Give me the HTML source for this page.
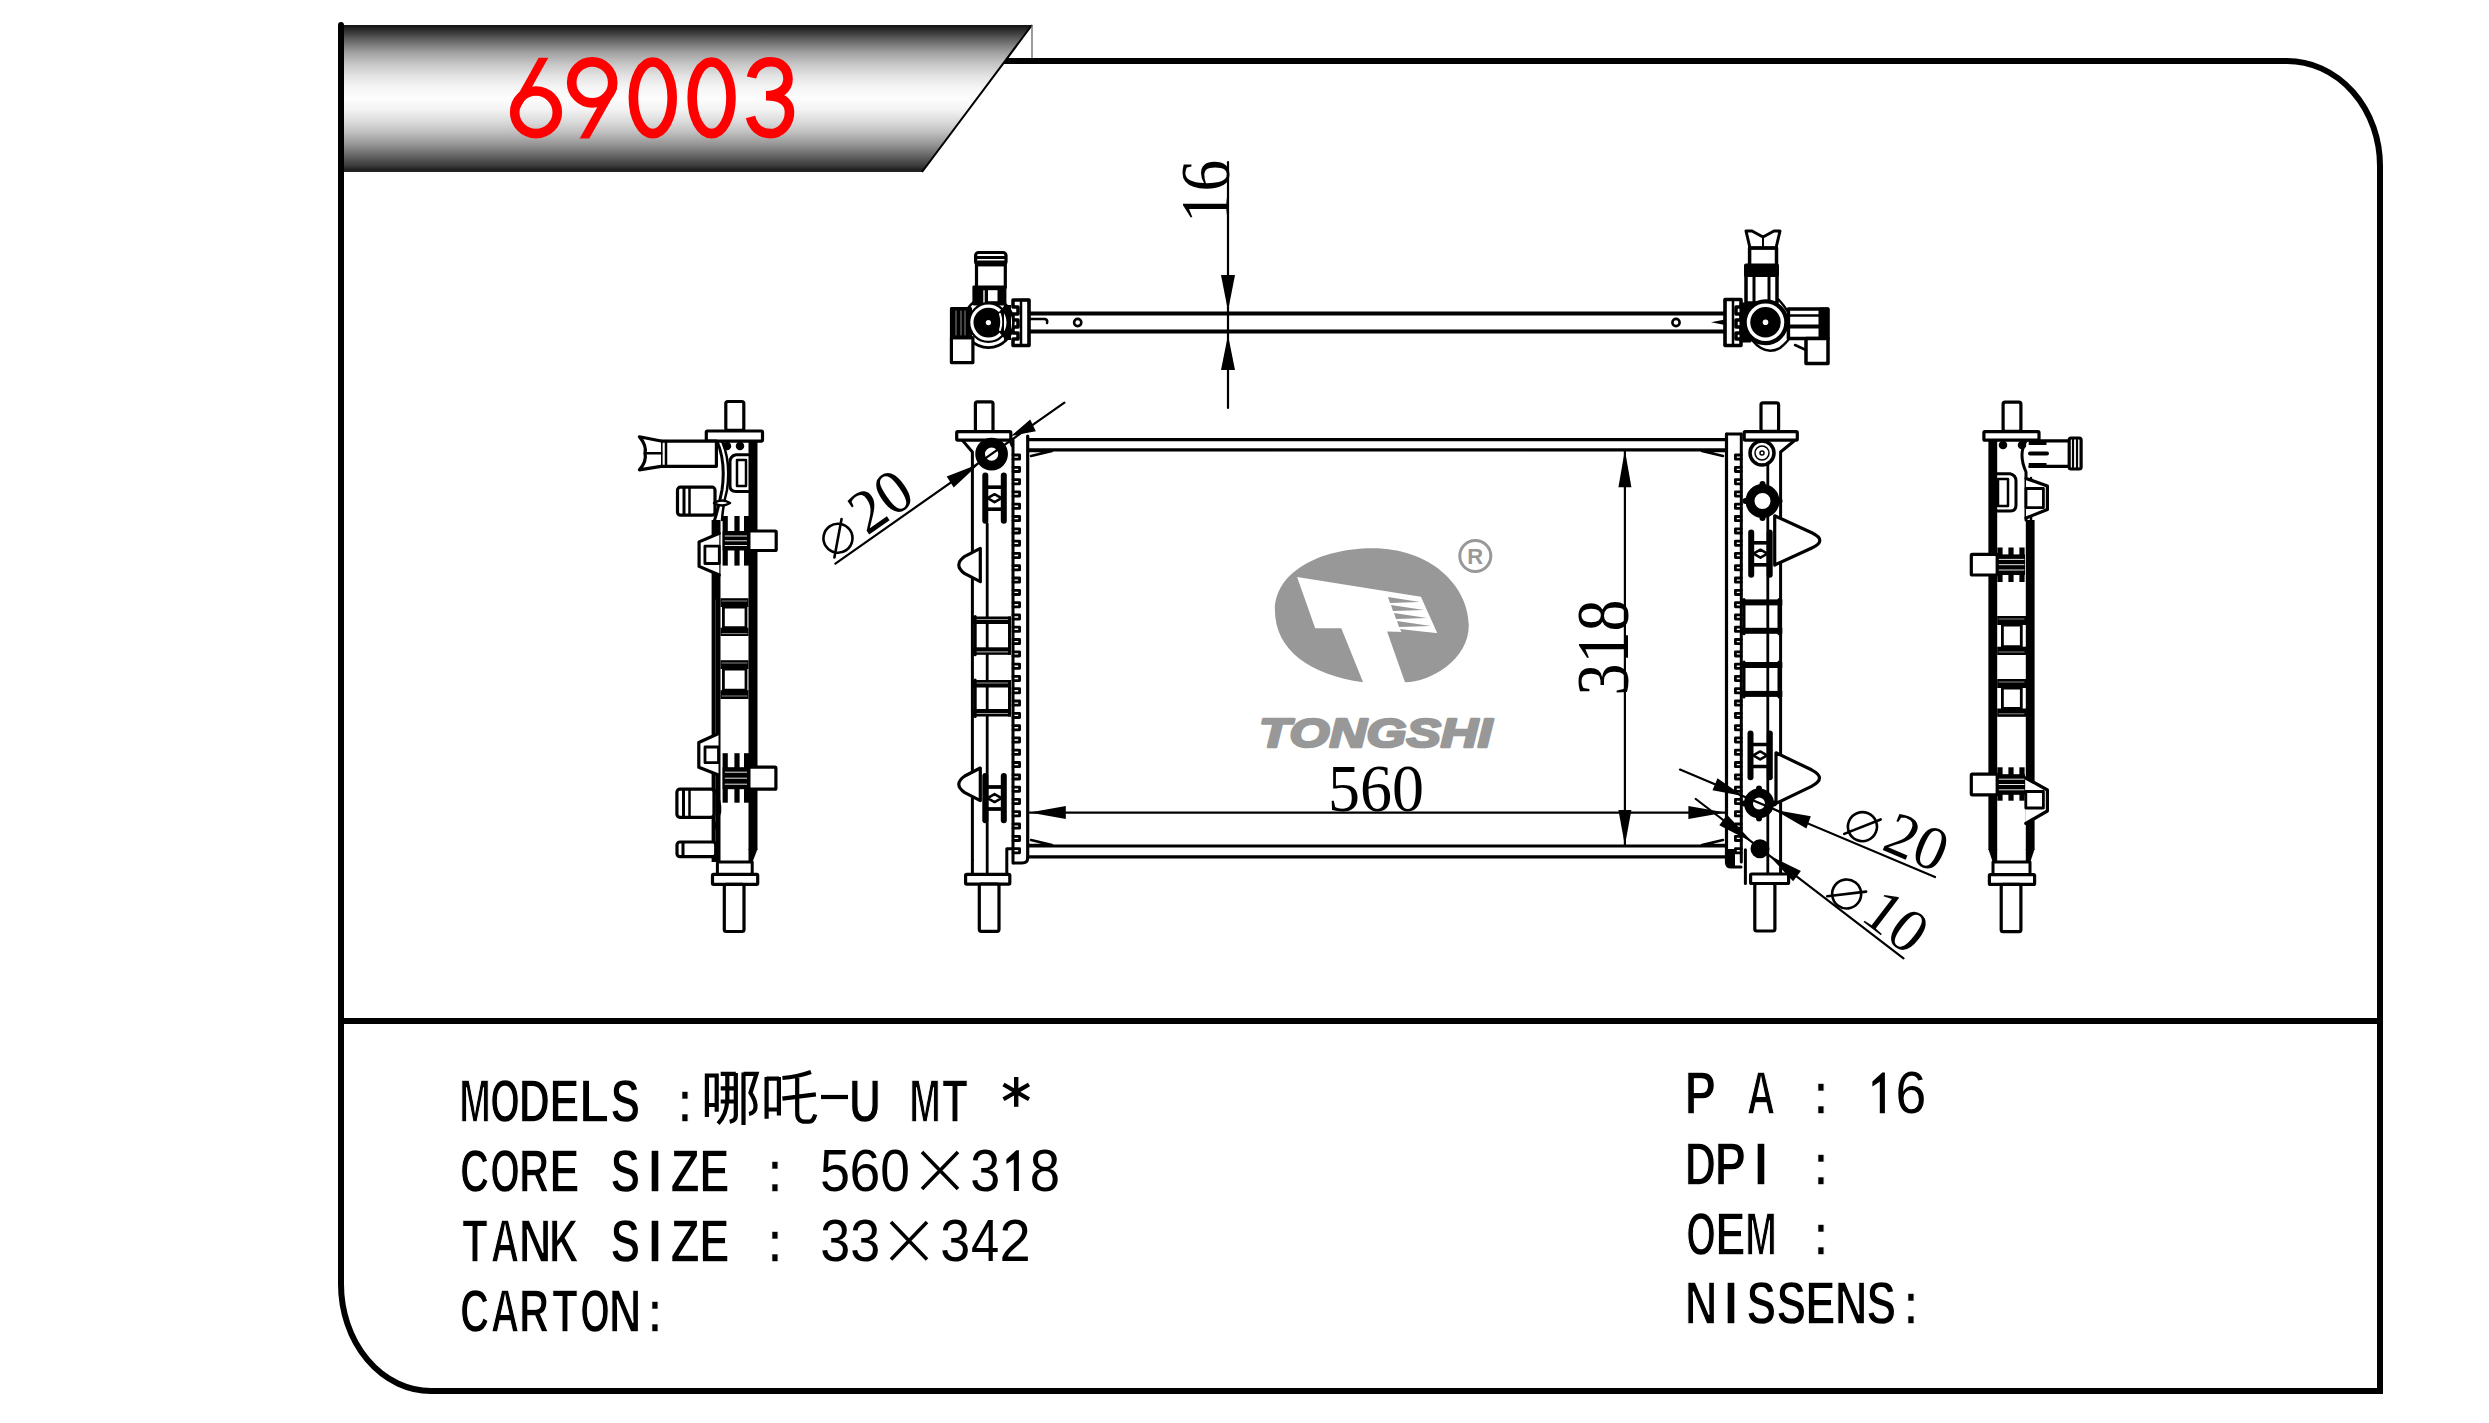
<!DOCTYPE html>
<html><head><meta charset="utf-8">
<style>
html,body{margin:0;padding:0;background:#fff;}
body{width:2489px;height:1423px;overflow:hidden;position:relative;}
svg{position:absolute;left:0;top:0;}
.m{font-family:"Liberation Mono",monospace;}
.s{font-family:"Liberation Serif",serif;}
.a{font-family:"Liberation Sans",sans-serif;}
</style></head><body>
<svg width="2489" height="1423" viewBox="0 0 2489 1423">
<defs>
<linearGradient id="hg" x1="0" y1="0" x2="0" y2="1">
<stop offset="0" stop-color="#111"/>
<stop offset="0.042" stop-color="#333"/>
<stop offset="0.118" stop-color="#707070"/>
<stop offset="0.195" stop-color="#a5a5a5"/>
<stop offset="0.271" stop-color="#c8c8c8"/>
<stop offset="0.347" stop-color="#e3e3e3"/>
<stop offset="0.424" stop-color="#f5f5f5"/>
<stop offset="0.5" stop-color="#fdfdfd"/>
<stop offset="0.576" stop-color="#f3f3f3"/>
<stop offset="0.653" stop-color="#dcdcdc"/>
<stop offset="0.729" stop-color="#c0c0c0"/>
<stop offset="0.805" stop-color="#999"/>
<stop offset="0.882" stop-color="#6a6a6a"/>
<stop offset="0.958" stop-color="#3a3a3a"/>
<stop offset="1" stop-color="#111"/>
</linearGradient>
<linearGradient id="hg2" gradientUnits="userSpaceOnUse" x1="0" y1="25" x2="0" y2="172" href="#hg"/>
</defs>
<path d="M341,25 L341,1284 A90,107 0 0 0 431,1391 L2380,1391 L2380,166 A93,105 0 0 0 2287,61 L1004,61" fill="none" stroke="#000" stroke-width="6" stroke-linecap="round"/>
<line x1="341" y1="1021" x2="2380" y2="1021" stroke="#000" stroke-width="6"/>
<path d="M344,25 L1032,25 L922,172 L344,172 Z" fill="url(#hg)"/>
<line x1="344" y1="171" x2="922" y2="171" stroke="#222" stroke-width="2"/>
<line x1="1032" y1="25" x2="922" y2="172" stroke="#000" stroke-width="2"/>
<line x1="1032" y1="25" x2="1032" y2="58" stroke="#666" stroke-width="1.3"/>
<g fill="none" stroke="#f00" stroke-width="9.6">
<circle cx="536" cy="112.3" r="21.3"/>
<path d="M538.7,57.8 H548.3 L520.3,107.8 H510.7 Z" fill="#f00" stroke="none"/>
<circle cx="592.2" cy="82.4" r="20.5"/>
<path d="M617.3,88.4 H607.7 L579.7,138.4 H589.3 Z" fill="#f00" stroke="none"/>
<ellipse cx="652.8" cy="97.8" rx="19.4" ry="35.8"/>
<ellipse cx="711.6" cy="97.8" rx="19.4" ry="35.8"/>
<path d="M751.5,77.5 C754,66 762,61.8 771,61.8 C781,61.8 788,69 788,79 C788,89 779,95.7 766,95.7 C781,95.7 789.5,102 789.5,112 C789.5,125 780,133.6 770.5,133.6 C760,133.6 753,127 750.5,117"/>
</g>
<g class="a" font-weight="bold" font-size="59" fill="#000">
<text stroke="#fff" stroke-width="1.4" transform="translate(459.25,1121.92) scale(0.642,1.0357)">M</text><text stroke="#fff" stroke-width="1.4" transform="translate(490.20,1121.92) scale(0.646,1.0357)">O</text><text stroke="#fff" stroke-width="1.4" transform="translate(518.82,1121.92) scale(0.736,1.0357)">D</text><text stroke="#fff" stroke-width="1.4" transform="translate(549.19,1121.92) scale(0.773,1.0357)">E</text><text stroke="#fff" stroke-width="1.4" transform="translate(579.18,1121.92) scale(0.830,1.0357)">L</text><text stroke="#fff" stroke-width="1.4" transform="translate(610.39,1121.92) scale(0.755,1.0357)">S</text><text stroke="#fff" stroke-width="1.4" transform="translate(677.29,1121.92) scale(0.783,1.0357)">:</text><text stroke="#fff" stroke-width="1.4" transform="translate(849.05,1121.92) scale(0.751,1.0357)">U</text><text stroke="#fff" stroke-width="1.4" transform="translate(909.25,1121.92) scale(0.642,1.0357)">M</text><text stroke="#fff" stroke-width="1.4" transform="translate(942.26,1121.92) scale(0.706,1.0357)">T</text>
<path d="M1016.3,1150.2 H1018.9 V1190.9 H1013.8 V1159.4 L1006.4,1164.1000000000001 V1159.3000000000002 Z" fill="#000"/>
<text stroke="#fff" stroke-width="1.4" transform="translate(460.07,1191.62) scale(0.688,1.0357)">C</text><text stroke="#fff" stroke-width="1.4" transform="translate(490.20,1191.62) scale(0.646,1.0357)">O</text><text stroke="#fff" stroke-width="1.4" transform="translate(518.94,1191.62) scale(0.709,1.0357)">R</text><text stroke="#fff" stroke-width="1.4" transform="translate(549.19,1191.62) scale(0.773,1.0357)">E</text><text stroke="#fff" stroke-width="1.4" transform="translate(610.39,1191.62) scale(0.755,1.0357)">S</text><text stroke="#fff" stroke-width="1.4" transform="translate(647.31,1191.62) scale(0.944,1.0357)">I</text><text stroke="#fff" stroke-width="1.4" transform="translate(670.14,1191.62) scale(0.823,1.0357)">Z</text><text stroke="#fff" stroke-width="1.4" transform="translate(699.19,1191.62) scale(0.773,1.0357)">E</text><text stroke="#fff" stroke-width="1.4" transform="translate(767.29,1191.62) scale(0.783,1.0357)">:</text><text font-weight="normal" transform="translate(820.06,1190.9) scale(0.914,1)">5</text><text font-weight="normal" transform="translate(849.44,1190.9) scale(0.938,1)">6</text><text font-weight="normal" transform="translate(880.17,1190.9) scale(0.904,1)">0</text><text font-weight="normal" transform="translate(970.15,1190.9) scale(0.914,1)">3</text><text font-weight="normal" transform="translate(1029.85,1190.9) scale(0.924,1)">8</text>
<text stroke="#fff" stroke-width="1.4" transform="translate(462.26,1261.72) scale(0.706,1.0357)">T</text><text stroke="#fff" stroke-width="1.4" transform="translate(490.72,1261.72) scale(0.672,1.0357)">A</text><text stroke="#fff" stroke-width="1.4" transform="translate(518.66,1261.72) scale(0.769,1.0357)">N</text><text stroke="#fff" stroke-width="1.4" transform="translate(548.99,1261.72) scale(0.698,1.0357)">K</text><text stroke="#fff" stroke-width="1.4" transform="translate(610.39,1261.72) scale(0.755,1.0357)">S</text><text stroke="#fff" stroke-width="1.4" transform="translate(647.31,1261.72) scale(0.944,1.0357)">I</text><text stroke="#fff" stroke-width="1.4" transform="translate(670.14,1261.72) scale(0.823,1.0357)">Z</text><text stroke="#fff" stroke-width="1.4" transform="translate(699.19,1261.72) scale(0.773,1.0357)">E</text><text stroke="#fff" stroke-width="1.4" transform="translate(767.29,1261.72) scale(0.783,1.0357)">:</text><text font-weight="normal" transform="translate(820.15,1261) scale(0.914,1)">3</text><text font-weight="normal" transform="translate(850.15,1261) scale(0.914,1)">3</text><text font-weight="normal" transform="translate(940.15,1261) scale(0.914,1)">3</text><text font-weight="normal" transform="translate(971.05,1261) scale(0.859,1)">4</text><text font-weight="normal" transform="translate(999.40,1261) scale(0.951,1)">2</text>
<text stroke="#fff" stroke-width="1.4" transform="translate(460.07,1332.02) scale(0.688,1.0357)">C</text><text stroke="#fff" stroke-width="1.4" transform="translate(490.72,1332.02) scale(0.672,1.0357)">A</text><text stroke="#fff" stroke-width="1.4" transform="translate(518.94,1332.02) scale(0.709,1.0357)">R</text><text stroke="#fff" stroke-width="1.4" transform="translate(552.26,1332.02) scale(0.706,1.0357)">T</text><text stroke="#fff" stroke-width="1.4" transform="translate(580.20,1332.02) scale(0.646,1.0357)">O</text><text stroke="#fff" stroke-width="1.4" transform="translate(608.66,1332.02) scale(0.769,1.0357)">N</text><text stroke="#fff" stroke-width="1.4" transform="translate(647.29,1332.02) scale(0.783,1.0357)">:</text>
<path d="M1882.3,1072.5 H1884.9 V1113.2 H1879.8 V1081.7 L1872.4,1086.4 V1081.6000000000001 Z" fill="#000"/>
<text stroke="#fff" stroke-width="1.4" transform="translate(1684.52,1113.92) scale(0.800,1.0357)">P</text><text stroke="#fff" stroke-width="1.4" transform="translate(1746.72,1113.92) scale(0.672,1.0357)">A</text><text stroke="#fff" stroke-width="1.4" transform="translate(1813.29,1113.92) scale(0.783,1.0357)">:</text><text font-weight="normal" transform="translate(1895.44,1113.2) scale(0.938,1)">6</text>
<text stroke="#fff" stroke-width="1.4" transform="translate(1684.82,1184.62) scale(0.736,1.0357)">D</text><text stroke="#fff" stroke-width="1.4" transform="translate(1714.52,1184.62) scale(0.800,1.0357)">P</text><text stroke="#fff" stroke-width="1.4" transform="translate(1753.31,1184.62) scale(0.944,1.0357)">I</text><text stroke="#fff" stroke-width="1.4" transform="translate(1813.29,1184.62) scale(0.783,1.0357)">:</text>
<text stroke="#fff" stroke-width="1.4" transform="translate(1686.20,1254.72) scale(0.646,1.0357)">O</text><text stroke="#fff" stroke-width="1.4" transform="translate(1715.19,1254.72) scale(0.773,1.0357)">E</text><text stroke="#fff" stroke-width="1.4" transform="translate(1745.25,1254.72) scale(0.642,1.0357)">M</text><text stroke="#fff" stroke-width="1.4" transform="translate(1813.29,1254.72) scale(0.783,1.0357)">:</text>
<text stroke="#fff" stroke-width="1.4" transform="translate(1684.66,1323.72) scale(0.769,1.0357)">N</text><text stroke="#fff" stroke-width="1.4" transform="translate(1723.31,1323.72) scale(0.944,1.0357)">I</text><text stroke="#fff" stroke-width="1.4" transform="translate(1746.39,1323.72) scale(0.755,1.0357)">S</text><text stroke="#fff" stroke-width="1.4" transform="translate(1776.39,1323.72) scale(0.755,1.0357)">S</text><text stroke="#fff" stroke-width="1.4" transform="translate(1805.19,1323.72) scale(0.773,1.0357)">E</text><text stroke="#fff" stroke-width="1.4" transform="translate(1834.66,1323.72) scale(0.769,1.0357)">N</text><text stroke="#fff" stroke-width="1.4" transform="translate(1866.39,1323.72) scale(0.755,1.0357)">S</text><text stroke="#fff" stroke-width="1.4" transform="translate(1903.29,1323.72) scale(0.783,1.0357)">:</text>
</g>
<g stroke="#000" stroke-width="3.6" fill="none">
<path d="M922,1152 L958,1189 M958,1152 L922,1189"/>
<path d="M891,1222 L927,1259.6 M927,1222 L891,1259.6"/>
</g>
<g stroke="#000" stroke-width="4.2" fill="none" stroke-linecap="butt">
<path d="M706.9,1073.5 V1117 M706.9,1075.5 H716.7 M716.7,1073.5 V1111.7 M706.9,1105 H716.7"/>
<path d="M720.7,1073.8 H735.8 M735.8,1073 V1116 Q735.8,1120.5 729.7,1121.7 M727.3,1073.8 V1100 Q726.5,1115 718.1,1123.6 M720.7,1088.3 H735.8 M720.7,1101.5 H735.8"/>
<path d="M743.5,1072.5 V1124.9 M743.5,1073.8 H756.5 L750.5,1092.8 Q756.5,1102 755.4,1108.2 Q754.5,1113 749,1114"/>
<path d="M766.6,1077 V1118.8 M766.6,1078.6 H778.9 M778.9,1077 V1115.6 M766.6,1109.5 H778.9"/>
<path d="M782.4,1078 Q797,1077 811,1072 M782.4,1098.6 L815.9,1094.4 M797.2,1078 V1113 Q797.2,1121.7 805,1121.7 H809 Q813.5,1121.7 815.2,1114.6"/>
<path d="M821,1097 H848"/>
<path d="M1016.2,1077 V1106.8" stroke-width="4.4"/>
<path d="M1003.5,1084.5 L1029,1099.3 M1029,1084.5 L1003.5,1099.3" stroke-width="4.2"/>
</g>
<g stroke-linejoin="round" stroke-linecap="round">
<line x1="1029" y1="313.5" x2="1726" y2="313.5" stroke="#000" stroke-width="4.2"/>
<line x1="1029" y1="331.5" x2="1726" y2="331.5" stroke="#000" stroke-width="4.2"/>
<circle cx="1077.7" cy="322.5" r="3.6" fill="none" stroke="#000" stroke-width="2.6"/>
<circle cx="1676" cy="322.5" r="3.6" fill="none" stroke="#000" stroke-width="2.6"/>
<path d="M1029,319 H1045 Q1048,320 1047,323" fill="none" stroke="#000" stroke-width="2.5"/>
<path d="M1725,319.5 L1711,322.3 L1725,325 Z" fill="#000"/>
<path d="M1029,300 H1013 V307 H1018 V314 H1013 V320 H1018 V327 H1013 V333 H1018 V339 H1013 V345.5 H1029 Z" fill="#fff" stroke="#000" stroke-width="3.5"/>
<rect x="1021" y="300" width="8.00" height="45.50" rx="0" fill="none" stroke="#000" stroke-width="2.5"/>
<circle cx="988.4" cy="322.6" r="25" fill="#fff" stroke="#000" stroke-width="2.6"/>
<rect x="951.4" y="337.7" width="21.50" height="24.90" rx="0" fill="#fff" stroke="#000" stroke-width="3.2"/>
<rect x="951.4" y="308.5" width="19.20" height="29.20" rx="0" fill="#000" stroke="#000" stroke-width="3"/>
<line x1="956" y1="311" x2="956" y2="335" stroke="#888" stroke-width="1"/>
<line x1="961" y1="311" x2="961" y2="335" stroke="#888" stroke-width="1"/>
<line x1="965" y1="311" x2="965" y2="335" stroke="#888" stroke-width="1"/>
<rect x="976.5" y="264.7" width="28.80" height="22.80" rx="0" fill="#fff" stroke="#000" stroke-width="3.2"/>
<rect x="975.6" y="252.5" width="30.40" height="12.20" rx="3" fill="#fff" stroke="#000" stroke-width="3.2"/>
<line x1="977" y1="257.5" x2="1005" y2="257.5" stroke="#000" stroke-width="2.8"/>
<line x1="977" y1="262" x2="1005" y2="262" stroke="#000" stroke-width="2.8"/>
<rect x="973.8" y="287" width="31.20" height="17.00" rx="0" fill="#000" stroke="#000" stroke-width="2.8"/>
<rect x="988" y="290.2" width="9.50" height="11.00" rx="0" fill="#fff" stroke="#000" stroke-width="0"/>
<line x1="984" y1="291" x2="984" y2="302" stroke="#aaa" stroke-width="2"/>
<rect x="1004" y="305" width="7.00" height="35.00" rx="0" fill="#000" stroke="#000" stroke-width="0"/>
<circle cx="988.4" cy="322.6" r="18.8" fill="#000" stroke="#000" stroke-width="3.2"/>
<circle cx="988.4" cy="322.6" r="16.5" fill="none" stroke="#fff" stroke-width="3.2"/>
<circle cx="988.4" cy="322.6" r="2.6" fill="#fff" stroke="#000" stroke-width="0"/>
<path d="M999,312 L1004,306 V338 L999,332 Q1002,322 999,312 Z" fill="#000"/>
<path d="M1000,314 Q1002.5,322 1000,330" fill="none" stroke="#fff" stroke-width="2"/>
<path d="M1725,299.6 H1741 V307 H1736 V314 H1741 V320 H1736 V327 H1741 V333 H1736 V339 H1741 V345.6 H1725 Z" fill="#fff" stroke="#000" stroke-width="3.5"/>
<rect x="1725" y="299.6" width="8.00" height="46.00" rx="0" fill="none" stroke="#000" stroke-width="2.5"/>
<path d="M1752,305 Q1765,290 1779,300 Q1790,312 1792,322" fill="none" stroke="#000" stroke-width="2.5"/>
<path d="M1752,340 Q1765,356 1780,348 Q1790,340 1792,333" fill="none" stroke="#000" stroke-width="2.5"/>
<rect x="1788.4" y="309" width="39.50" height="29.50" rx="0" fill="#fff" stroke="#000" stroke-width="3.5"/>
<line x1="1790" y1="315.5" x2="1820" y2="315.5" stroke="#000" stroke-width="2.5"/>
<line x1="1790" y1="326.5" x2="1820" y2="326.5" stroke="#000" stroke-width="4"/>
<rect x="1820" y="309" width="7.90" height="29.50" rx="0" fill="#000" stroke="#000" stroke-width="3"/>
<rect x="1806" y="338.5" width="22.00" height="25.00" rx="0" fill="#fff" stroke="#000" stroke-width="3.5"/>
<line x1="1795" y1="345" x2="1806" y2="350" stroke="#000" stroke-width="2.5"/>
<rect x="1746" y="275" width="31.00" height="28.00" rx="0" fill="#fff" stroke="#000" stroke-width="3.5"/>
<line x1="1754" y1="276" x2="1754" y2="302" stroke="#000" stroke-width="3"/>
<line x1="1769" y1="276" x2="1769" y2="302" stroke="#000" stroke-width="3"/>
<rect x="1746" y="265.6" width="31.00" height="9.40" rx="0" fill="#000" stroke="#000" stroke-width="4"/>
<path d="M1749.6,265.6 V248 H1776.5 V265.6" fill="none" stroke="#000" stroke-width="3.5"/>
<line x1="1750" y1="248" x2="1776" y2="248" stroke="#000" stroke-width="3"/>
<path d="M1750,248 L1746,231 H1752 L1763,237 L1774,231 H1780 L1776,248" fill="none" stroke="#000" stroke-width="3"/>
<line x1="1763" y1="237" x2="1763" y2="248" stroke="#000" stroke-width="2"/>
<rect x="1741" y="304" width="9.00" height="37.00" rx="0" fill="#000" stroke="#000" stroke-width="3"/>
<circle cx="1765.5" cy="322.3" r="21" fill="#000" stroke="#000" stroke-width="4"/>
<circle cx="1765.5" cy="322.3" r="17" fill="none" stroke="#fff" stroke-width="3.5"/>
<circle cx="1765.5" cy="322.3" r="2.8" fill="#fff" stroke="#000" stroke-width="0"/>
<line x1="1228" y1="162" x2="1228" y2="408" stroke="#000" stroke-width="2.2"/>
<path d="M1228.0,311.0 L1235.0,275.0 L1221.0,275.0 Z" fill="#000"/>
<path d="M1228.0,335.0 L1221.0,370.0 L1235.0,370.0 Z" fill="#000"/>
<text transform="translate(1229,223) rotate(-90)" class="s" font-size="70" textLength="63" lengthAdjust="spacingAndGlyphs">16</text>
<rect x="748.5" y="441" width="9.00" height="409.00" rx="0" fill="#000" stroke="#000" stroke-width="0"/>
<path d="M748.5,849 H757.5 L752.2,863 H748.5 Z" fill="#000"/>
<rect x="711.6" y="520" width="8.90" height="342.00" rx="0" fill="#000" stroke="#000" stroke-width="0"/>
<line x1="715.5" y1="600" x2="715.5" y2="850" stroke="#444" stroke-width="0.8"/>
<rect x="717.4" y="862" width="34.80" height="12.70" rx="0" fill="#fff" stroke="#000" stroke-width="3"/>
<path d="M717,441 Q726,462 722,490 Q718,510 714,522" fill="none" stroke="#000" stroke-width="3"/>
<path d="M722,441 Q731,462 727,490 Q723,505 722,520" fill="none" stroke="#000" stroke-width="2.5"/>
<rect x="725.8" y="401.5" width="18.00" height="28.80" rx="2" fill="#fff" stroke="#000" stroke-width="3.2"/>
<rect x="706.3" y="431" width="56.20" height="10.10" rx="1" fill="#fff" stroke="#000" stroke-width="3.2"/>
<rect x="712.5" y="874.4" width="45.20" height="9.90" rx="1" fill="#fff" stroke="#000" stroke-width="3.2"/>
<rect x="724.3" y="884.3" width="19.70" height="47.20" rx="2" fill="#fff" stroke="#000" stroke-width="3.2"/>
<path d="M748,454.8 H736 Q730,456 730,462 V486 Q730,491.5 736,491.5 H748" fill="none" stroke="#000" stroke-width="3"/>
<rect x="737" y="460" width="9.00" height="26.00" rx="0" fill="none" stroke="#000" stroke-width="2.5"/>
<circle cx="727" cy="446" r="3" fill="#000" stroke="#000" stroke-width="2.5"/>
<circle cx="740" cy="446" r="3" fill="#000" stroke="#000" stroke-width="2.5"/>
<rect x="661" y="441.1" width="55.40" height="25.20" rx="0" fill="#fff" stroke="#000" stroke-width="3.2"/>
<line x1="666" y1="441.1" x2="666" y2="466.3" stroke="#000" stroke-width="2.5"/>
<path d="M661,441 L639.4,436.8 Q647,446 645,453.3 Q647,461 639.4,469.9 L661,466.3" fill="#fff" stroke="#000" stroke-width="3.2"/>
<line x1="645" y1="453.3" x2="661" y2="453.3" stroke="#000" stroke-width="2.5"/>
<rect x="677.5" y="487.2" width="37.50" height="28.00" rx="3" fill="#fff" stroke="#000" stroke-width="3.2"/>
<line x1="684" y1="488" x2="684" y2="514" stroke="#000" stroke-width="3"/>
<line x1="689.5" y1="488" x2="689.5" y2="514" stroke="#000" stroke-width="2.5"/>
<path d="M714,503 Q722,498 730,503 Q722,508 714,503" fill="#fff" stroke="#000" stroke-width="2.5"/>
<rect x="722.6" y="516" width="5.20" height="49.60" rx="0" fill="#000" stroke="#000" stroke-width="0"/>
<rect x="734.4" y="516" width="5.20" height="49.60" rx="0" fill="#000" stroke="#000" stroke-width="0"/>
<rect x="744.0" y="516" width="5.20" height="49.60" rx="0" fill="#000" stroke="#000" stroke-width="0"/>
<rect x="722.6" y="531" width="28.00" height="19.50" rx="0" fill="#000" stroke="#000" stroke-width="0"/>
<line x1="725.2" y1="536.0" x2="746.6" y2="536.0" stroke="#fff" stroke-width="0.9"/>
<line x1="725.2" y1="540.8" x2="746.6" y2="540.8" stroke="#fff" stroke-width="0.9"/>
<line x1="725.2" y1="545.5" x2="746.6" y2="545.5" stroke="#fff" stroke-width="0.9"/>
<rect x="748.9" y="531" width="27.30" height="19.50" rx="1" fill="#fff" stroke="#000" stroke-width="3.2"/>
<path d="M719.3,533.3 L699.1,541.9 V566.4 L719.3,575" fill="#fff" stroke="#000" stroke-width="3.2"/>
<rect x="704.9" y="546.2" width="14.40" height="17.30" rx="0" fill="none" stroke="#000" stroke-width="2.8"/>
<rect x="722.6" y="753.2" width="5.20" height="49.50" rx="0" fill="#000" stroke="#000" stroke-width="0"/>
<rect x="734.4" y="753.2" width="5.20" height="49.50" rx="0" fill="#000" stroke="#000" stroke-width="0"/>
<rect x="744.0" y="753.2" width="5.20" height="49.50" rx="0" fill="#000" stroke="#000" stroke-width="0"/>
<rect x="722.6" y="767.2" width="28.00" height="22.00" rx="0" fill="#000" stroke="#000" stroke-width="0"/>
<line x1="725.2" y1="772.2" x2="746.6" y2="772.2" stroke="#fff" stroke-width="0.9"/>
<line x1="725.2" y1="778.2" x2="746.6" y2="778.2" stroke="#fff" stroke-width="0.9"/>
<line x1="725.2" y1="784.2" x2="746.6" y2="784.2" stroke="#fff" stroke-width="0.9"/>
<rect x="748.9" y="767.2" width="27.00" height="22.00" rx="1" fill="#fff" stroke="#000" stroke-width="3.2"/>
<path d="M718.5,733.5 L698.8,742.5 V767.2 L718.5,775.1" fill="#fff" stroke="#000" stroke-width="3.2"/>
<rect x="705" y="747" width="13.50" height="15.70" rx="0" fill="none" stroke="#000" stroke-width="2.8"/>
<rect x="720.5" y="598.2" width="28.00" height="8.80" rx="0" fill="#000" stroke="#000" stroke-width="0"/>
<rect x="723.4" y="607" width="22.60" height="20.70" rx="0" fill="none" stroke="#000" stroke-width="2.8"/>
<rect x="720.5" y="627.7" width="28.00" height="8.30" rx="0" fill="#000" stroke="#000" stroke-width="0"/>
<rect x="720.5" y="660.2" width="28.00" height="8.80" rx="0" fill="#000" stroke="#000" stroke-width="0"/>
<rect x="723.4" y="669" width="22.60" height="21.20" rx="0" fill="none" stroke="#000" stroke-width="2.8"/>
<rect x="720.5" y="690.2" width="28.00" height="8.80" rx="0" fill="#000" stroke="#000" stroke-width="0"/>
<line x1="722" y1="601" x2="747" y2="601" stroke="#888" stroke-width="1"/>
<line x1="722" y1="633.6" x2="747" y2="633.6" stroke="#888" stroke-width="1"/>
<line x1="722" y1="663" x2="747" y2="663" stroke="#888" stroke-width="1"/>
<line x1="722" y1="696" x2="747" y2="696" stroke="#888" stroke-width="1"/>
<rect x="676.9" y="789.2" width="37.10" height="28.10" rx="3" fill="#fff" stroke="#000" stroke-width="3.2"/>
<line x1="683.5" y1="790" x2="683.5" y2="816" stroke="#000" stroke-width="3"/>
<line x1="689.5" y1="790" x2="689.5" y2="816" stroke="#000" stroke-width="2.5"/>
<rect x="677" y="842" width="38.70" height="14.70" rx="3" fill="#fff" stroke="#000" stroke-width="3.2"/>
<line x1="683" y1="843" x2="683" y2="856" stroke="#000" stroke-width="3"/>
<path d="M714,789 Q721,800 720,812 Q717,822 714,830" fill="none" stroke="#000" stroke-width="2.5"/>
<line x1="1029" y1="439.7" x2="1725" y2="439.7" stroke="#000" stroke-width="3.2"/>
<line x1="1029" y1="449.8" x2="1725" y2="449.8" stroke="#000" stroke-width="3.2"/>
<line x1="1029" y1="846" x2="1725" y2="846" stroke="#000" stroke-width="3.2"/>
<line x1="1029" y1="856.8" x2="1725" y2="856.8" stroke="#000" stroke-width="3.2"/>
<path d="M1031,456 L1052,451 H1029" fill="none" stroke="#000" stroke-width="2.5"/>
<path d="M1031,840 L1052,845 H1029" fill="none" stroke="#000" stroke-width="2.5"/>
<path d="M1723,456 L1702,451 H1725" fill="none" stroke="#000" stroke-width="2.5"/>
<path d="M1723,840 L1702,845 H1725" fill="none" stroke="#000" stroke-width="2.5"/>
<line x1="1027.7" y1="436" x2="1027.7" y2="858" stroke="#000" stroke-width="3.2"/>
<path d="M1027.7,858 Q1027.7,863 1022,863 H1014" fill="none" stroke="#000" stroke-width="3"/>
<line x1="1013" y1="440" x2="1013" y2="863" stroke="#000" stroke-width="3"/>
<path d="M1013,455.0 H1019.6 V459.2 H1013" fill="none" stroke="#000" stroke-width="2.8"/>
<path d="M1013,467.3 H1019.6 V471.5 H1013" fill="none" stroke="#000" stroke-width="2.8"/>
<path d="M1013,479.6 H1019.6 V483.8 H1013" fill="none" stroke="#000" stroke-width="2.8"/>
<path d="M1013,491.9 H1019.6 V496.1 H1013" fill="none" stroke="#000" stroke-width="2.8"/>
<path d="M1013,504.2 H1019.6 V508.4 H1013" fill="none" stroke="#000" stroke-width="2.8"/>
<path d="M1013,516.5 H1019.6 V520.7 H1013" fill="none" stroke="#000" stroke-width="2.8"/>
<path d="M1013,528.8 H1019.6 V533.0 H1013" fill="none" stroke="#000" stroke-width="2.8"/>
<path d="M1013,541.1 H1019.6 V545.3 H1013" fill="none" stroke="#000" stroke-width="2.8"/>
<path d="M1013,553.4 H1019.6 V557.6 H1013" fill="none" stroke="#000" stroke-width="2.8"/>
<path d="M1013,565.7 H1019.6 V569.9 H1013" fill="none" stroke="#000" stroke-width="2.8"/>
<path d="M1013,578.0 H1019.6 V582.2 H1013" fill="none" stroke="#000" stroke-width="2.8"/>
<path d="M1013,590.3 H1019.6 V594.5 H1013" fill="none" stroke="#000" stroke-width="2.8"/>
<path d="M1013,602.6 H1019.6 V606.8 H1013" fill="none" stroke="#000" stroke-width="2.8"/>
<path d="M1013,614.9 H1019.6 V619.1 H1013" fill="none" stroke="#000" stroke-width="2.8"/>
<path d="M1013,627.2 H1019.6 V631.4 H1013" fill="none" stroke="#000" stroke-width="2.8"/>
<path d="M1013,639.5 H1019.6 V643.7 H1013" fill="none" stroke="#000" stroke-width="2.8"/>
<path d="M1013,651.8 H1019.6 V656.0 H1013" fill="none" stroke="#000" stroke-width="2.8"/>
<path d="M1013,664.1 H1019.6 V668.3 H1013" fill="none" stroke="#000" stroke-width="2.8"/>
<path d="M1013,676.4 H1019.6 V680.6 H1013" fill="none" stroke="#000" stroke-width="2.8"/>
<path d="M1013,688.7 H1019.6 V692.9 H1013" fill="none" stroke="#000" stroke-width="2.8"/>
<path d="M1013,701.0 H1019.6 V705.2 H1013" fill="none" stroke="#000" stroke-width="2.8"/>
<path d="M1013,713.3 H1019.6 V717.5 H1013" fill="none" stroke="#000" stroke-width="2.8"/>
<path d="M1013,725.6 H1019.6 V729.8 H1013" fill="none" stroke="#000" stroke-width="2.8"/>
<path d="M1013,737.9 H1019.6 V742.1 H1013" fill="none" stroke="#000" stroke-width="2.8"/>
<path d="M1013,750.2 H1019.6 V754.4 H1013" fill="none" stroke="#000" stroke-width="2.8"/>
<path d="M1013,762.5 H1019.6 V766.7 H1013" fill="none" stroke="#000" stroke-width="2.8"/>
<path d="M1013,774.8 H1019.6 V779.0 H1013" fill="none" stroke="#000" stroke-width="2.8"/>
<path d="M1013,787.1 H1019.6 V791.3 H1013" fill="none" stroke="#000" stroke-width="2.8"/>
<path d="M1013,799.4 H1019.6 V803.6 H1013" fill="none" stroke="#000" stroke-width="2.8"/>
<path d="M1013,811.7 H1019.6 V815.9 H1013" fill="none" stroke="#000" stroke-width="2.8"/>
<path d="M1013,824.0 H1019.6 V828.2 H1013" fill="none" stroke="#000" stroke-width="2.8"/>
<path d="M1013,836.3 H1019.6 V840.5 H1013" fill="none" stroke="#000" stroke-width="2.8"/>
<path d="M1013,848.6 H1019.6 V852.8 H1013" fill="none" stroke="#000" stroke-width="2.8"/>
<rect x="975.4" y="401.8" width="17.60" height="30.50" rx="2" fill="#fff" stroke="#000" stroke-width="3.2"/>
<rect x="956.7" y="431.7" width="54.10" height="8.40" rx="1" fill="#fff" stroke="#000" stroke-width="3.2"/>
<path d="M963,441 L972.4,452 V860" fill="none" stroke="#000" stroke-width="3"/>
<path d="M1010,441 L1012,446" fill="none" stroke="#000" stroke-width="2.5"/>
<line x1="987.2" y1="523.7" x2="987.2" y2="875" stroke="#000" stroke-width="2.8"/>
<circle cx="991.6" cy="454.1" r="11.5" fill="#fff" stroke="#000" stroke-width="9.7"/>
<rect x="982.3" y="472.6" width="6.00" height="51.10" rx="3" fill="#000" stroke="#000" stroke-width="0"/>
<rect x="1000.8" y="472.6" width="6.00" height="51.10" rx="3" fill="#000" stroke="#000" stroke-width="0"/>
<rect x="985.3" y="487.15000000000003" width="18.50" height="22.00" rx="0" fill="none" stroke="#000" stroke-width="3"/>
<line x1="988.3" y1="487.15000000000003" x2="1000.8" y2="487.15000000000003" stroke="#000" stroke-width="3.5"/>
<line x1="988.3" y1="509.15000000000003" x2="1000.8" y2="509.15000000000003" stroke="#000" stroke-width="3.5"/>
<path d="M987.55,498.15000000000003 L994.55,494.15000000000003 L1001.55,498.15000000000003 L994.55,502.15000000000003 Z" fill="none" stroke="#000" stroke-width="2.5"/>
<rect x="982.3" y="773" width="6.00" height="50.20" rx="3" fill="#000" stroke="#000" stroke-width="0"/>
<rect x="1000.8" y="773" width="6.00" height="50.20" rx="3" fill="#000" stroke="#000" stroke-width="0"/>
<rect x="985.3" y="787.1" width="18.50" height="22.00" rx="0" fill="none" stroke="#000" stroke-width="3"/>
<line x1="988.3" y1="787.1" x2="1000.8" y2="787.1" stroke="#000" stroke-width="3.5"/>
<line x1="988.3" y1="809.1" x2="1000.8" y2="809.1" stroke="#000" stroke-width="3.5"/>
<path d="M987.55,798.1 L994.55,794.1 L1001.55,798.1 L994.55,802.1 Z" fill="none" stroke="#000" stroke-width="2.5"/>
<path d="M980.3,548.3 L964.8,556.3 Q952.8,565.0 964.8,573.7 L980.3,581.7 Z" fill="#fff" stroke="#000" stroke-width="3.2"/>
<path d="M980.3,768 L964.8,776 Q952.8,784.3 964.8,792.6 L980.3,800.6 Z" fill="#fff" stroke="#000" stroke-width="3.2"/>
<rect x="972.4" y="616.5" width="38.60" height="7.50" rx="0" fill="#000" stroke="#000" stroke-width="0"/>
<rect x="972.4" y="647.3" width="38.60" height="7.50" rx="0" fill="#000" stroke="#000" stroke-width="0"/>
<line x1="976" y1="619.5" x2="1008" y2="619.5" stroke="#999" stroke-width="1.2"/>
<line x1="976" y1="651.8" x2="1008" y2="651.8" stroke="#999" stroke-width="1.2"/>
<line x1="975.2" y1="616.5" x2="975.2" y2="654.8" stroke="#000" stroke-width="3"/>
<rect x="1008" y="616.5" width="3.00" height="38.30" rx="0" fill="#000" stroke="#000" stroke-width="0"/>
<rect x="972.4" y="680" width="38.60" height="7.50" rx="0" fill="#000" stroke="#000" stroke-width="0"/>
<rect x="972.4" y="709.0" width="38.60" height="7.50" rx="0" fill="#000" stroke="#000" stroke-width="0"/>
<line x1="976" y1="683.0" x2="1008" y2="683.0" stroke="#999" stroke-width="1.2"/>
<line x1="976" y1="713.5" x2="1008" y2="713.5" stroke="#999" stroke-width="1.2"/>
<line x1="975.2" y1="680" x2="975.2" y2="716.5" stroke="#000" stroke-width="3"/>
<rect x="1008" y="680" width="3.00" height="36.50" rx="0" fill="#000" stroke="#000" stroke-width="0"/>
<rect x="965.6" y="874.3" width="44.20" height="9.80" rx="1" fill="#fff" stroke="#000" stroke-width="3.2"/>
<rect x="979.3" y="884.1" width="19.70" height="47.20" rx="2" fill="#fff" stroke="#000" stroke-width="3.2"/>
<path d="M1006.8,874 V848.8 H1013" fill="none" stroke="#000" stroke-width="3"/>
<line x1="972.4" y1="860" x2="972.4" y2="874" stroke="#000" stroke-width="3"/>
<line x1="1726.5" y1="434" x2="1726.5" y2="862.4" stroke="#000" stroke-width="3.2"/>
<path d="M1726.5,434 H1741" fill="none" stroke="#000" stroke-width="3"/>
<line x1="1741.3" y1="434" x2="1741.3" y2="862" stroke="#000" stroke-width="3"/>
<path d="M1741.3,455.0 H1735.4 V459.2 H1741.3" fill="none" stroke="#000" stroke-width="2.8"/>
<path d="M1741.3,467.3 H1735.4 V471.5 H1741.3" fill="none" stroke="#000" stroke-width="2.8"/>
<path d="M1741.3,479.6 H1735.4 V483.8 H1741.3" fill="none" stroke="#000" stroke-width="2.8"/>
<path d="M1741.3,491.9 H1735.4 V496.1 H1741.3" fill="none" stroke="#000" stroke-width="2.8"/>
<path d="M1741.3,504.2 H1735.4 V508.4 H1741.3" fill="none" stroke="#000" stroke-width="2.8"/>
<path d="M1741.3,516.5 H1735.4 V520.7 H1741.3" fill="none" stroke="#000" stroke-width="2.8"/>
<path d="M1741.3,528.8 H1735.4 V533.0 H1741.3" fill="none" stroke="#000" stroke-width="2.8"/>
<path d="M1741.3,541.1 H1735.4 V545.3 H1741.3" fill="none" stroke="#000" stroke-width="2.8"/>
<path d="M1741.3,553.4 H1735.4 V557.6 H1741.3" fill="none" stroke="#000" stroke-width="2.8"/>
<path d="M1741.3,565.7 H1735.4 V569.9 H1741.3" fill="none" stroke="#000" stroke-width="2.8"/>
<path d="M1741.3,578.0 H1735.4 V582.2 H1741.3" fill="none" stroke="#000" stroke-width="2.8"/>
<path d="M1741.3,590.3 H1735.4 V594.5 H1741.3" fill="none" stroke="#000" stroke-width="2.8"/>
<path d="M1741.3,602.6 H1735.4 V606.8 H1741.3" fill="none" stroke="#000" stroke-width="2.8"/>
<path d="M1741.3,614.9 H1735.4 V619.1 H1741.3" fill="none" stroke="#000" stroke-width="2.8"/>
<path d="M1741.3,627.2 H1735.4 V631.4 H1741.3" fill="none" stroke="#000" stroke-width="2.8"/>
<path d="M1741.3,639.5 H1735.4 V643.7 H1741.3" fill="none" stroke="#000" stroke-width="2.8"/>
<path d="M1741.3,651.8 H1735.4 V656.0 H1741.3" fill="none" stroke="#000" stroke-width="2.8"/>
<path d="M1741.3,664.1 H1735.4 V668.3 H1741.3" fill="none" stroke="#000" stroke-width="2.8"/>
<path d="M1741.3,676.4 H1735.4 V680.6 H1741.3" fill="none" stroke="#000" stroke-width="2.8"/>
<path d="M1741.3,688.7 H1735.4 V692.9 H1741.3" fill="none" stroke="#000" stroke-width="2.8"/>
<path d="M1741.3,701.0 H1735.4 V705.2 H1741.3" fill="none" stroke="#000" stroke-width="2.8"/>
<path d="M1741.3,713.3 H1735.4 V717.5 H1741.3" fill="none" stroke="#000" stroke-width="2.8"/>
<path d="M1741.3,725.6 H1735.4 V729.8 H1741.3" fill="none" stroke="#000" stroke-width="2.8"/>
<path d="M1741.3,737.9 H1735.4 V742.1 H1741.3" fill="none" stroke="#000" stroke-width="2.8"/>
<path d="M1741.3,750.2 H1735.4 V754.4 H1741.3" fill="none" stroke="#000" stroke-width="2.8"/>
<path d="M1741.3,762.5 H1735.4 V766.7 H1741.3" fill="none" stroke="#000" stroke-width="2.8"/>
<path d="M1741.3,774.8 H1735.4 V779.0 H1741.3" fill="none" stroke="#000" stroke-width="2.8"/>
<path d="M1741.3,787.1 H1735.4 V791.3 H1741.3" fill="none" stroke="#000" stroke-width="2.8"/>
<path d="M1741.3,799.4 H1735.4 V803.6 H1741.3" fill="none" stroke="#000" stroke-width="2.8"/>
<path d="M1741.3,811.7 H1735.4 V815.9 H1741.3" fill="none" stroke="#000" stroke-width="2.8"/>
<path d="M1741.3,824.0 H1735.4 V828.2 H1741.3" fill="none" stroke="#000" stroke-width="2.8"/>
<path d="M1741.3,836.3 H1735.4 V840.5 H1741.3" fill="none" stroke="#000" stroke-width="2.8"/>
<path d="M1741.3,848.6 H1735.4 V852.8 H1741.3" fill="none" stroke="#000" stroke-width="2.8"/>
<path d="M1726.5,862.4 Q1726.5,867 1731,867 H1741" fill="none" stroke="#000" stroke-width="3"/>
<rect x="1727" y="849" width="8.00" height="17.00" rx="0" fill="#000" stroke="#000" stroke-width="0"/>
<rect x="1761" y="402.8" width="17.60" height="28.50" rx="2" fill="#fff" stroke="#000" stroke-width="3.2"/>
<rect x="1744.2" y="431.7" width="53.10" height="8.40" rx="1" fill="#fff" stroke="#000" stroke-width="3.2"/>
<path d="M1794,441 L1780.6,452 V873" fill="none" stroke="#000" stroke-width="3"/>
<line x1="1767.8" y1="452" x2="1767.8" y2="873" stroke="#000" stroke-width="2.8"/>
<circle cx="1762" cy="453" r="12" fill="#fff" stroke="#000" stroke-width="3.5"/>
<circle cx="1762" cy="453" r="7" fill="none" stroke="#000" stroke-width="1.5"/>
<circle cx="1762" cy="453" r="2" fill="none" stroke="#000" stroke-width="1.5"/>
<circle cx="1762.5" cy="501" r="12.5" fill="#fff" stroke="#000" stroke-width="9"/>
<circle cx="1779.5" cy="501.0" r="3" fill="#000" stroke="#000" stroke-width="0"/>
<circle cx="1762.5" cy="518.0" r="3" fill="#000" stroke="#000" stroke-width="0"/>
<circle cx="1745.5" cy="501.0" r="3" fill="#000" stroke="#000" stroke-width="0"/>
<circle cx="1762.5" cy="484.0" r="3" fill="#000" stroke="#000" stroke-width="0"/>
<circle cx="1762.5" cy="501" r="7" fill="#fff" stroke="#000" stroke-width="0"/>
<circle cx="1759" cy="803.4" r="10.5" fill="#fff" stroke="#000" stroke-width="9"/>
<circle cx="1774.0" cy="803.4" r="3" fill="#000" stroke="#000" stroke-width="0"/>
<circle cx="1759.0" cy="818.4" r="3" fill="#000" stroke="#000" stroke-width="0"/>
<circle cx="1744.0" cy="803.4" r="3" fill="#000" stroke="#000" stroke-width="0"/>
<circle cx="1759.0" cy="788.4" r="3" fill="#000" stroke="#000" stroke-width="0"/>
<circle cx="1759" cy="803.4" r="5" fill="#fff" stroke="#000" stroke-width="0"/>
<circle cx="1760" cy="848.7" r="8" fill="#000" stroke="#000" stroke-width="3"/>
<path d="M1774.7,515.8 L1811.8,532.8 Q1827.8,540.4 1811.8,548 L1774.7,565 Z" fill="#fff" stroke="#000" stroke-width="3.2"/>
<path d="M1776,752.8 L1811.5,769.8 Q1827.5,778.0999999999999 1811.5,786.4 L1776,803.4 Z" fill="#fff" stroke="#000" stroke-width="3.2"/>
<rect x="1748.2" y="529.6" width="6.00" height="48.20" rx="3" fill="#000" stroke="#000" stroke-width="0"/>
<rect x="1766.7" y="529.6" width="6.00" height="48.20" rx="3" fill="#000" stroke="#000" stroke-width="0"/>
<rect x="1751.2" y="542.7" width="18.50" height="22.00" rx="0" fill="none" stroke="#000" stroke-width="3"/>
<line x1="1754.2" y1="542.7" x2="1766.7" y2="542.7" stroke="#000" stroke-width="3.5"/>
<line x1="1754.2" y1="564.7" x2="1766.7" y2="564.7" stroke="#000" stroke-width="3.5"/>
<path d="M1753.45,553.7 L1760.45,549.7 L1767.45,553.7 L1760.45,557.7 Z" fill="none" stroke="#000" stroke-width="2.5"/>
<rect x="1747.5" y="730.6" width="6.00" height="49.60" rx="3" fill="#000" stroke="#000" stroke-width="0"/>
<rect x="1766.8" y="730.6" width="6.00" height="49.60" rx="3" fill="#000" stroke="#000" stroke-width="0"/>
<rect x="1750.5" y="744.4000000000001" width="19.30" height="22.00" rx="0" fill="none" stroke="#000" stroke-width="3"/>
<line x1="1753.5" y1="744.4000000000001" x2="1766.8" y2="744.4000000000001" stroke="#000" stroke-width="3.5"/>
<line x1="1753.5" y1="766.4000000000001" x2="1766.8" y2="766.4000000000001" stroke="#000" stroke-width="3.5"/>
<path d="M1753.15,755.4000000000001 L1760.15,751.4000000000001 L1767.15,755.4000000000001 L1760.15,759.4000000000001 Z" fill="none" stroke="#000" stroke-width="2.5"/>
<rect x="1741" y="599.4" width="41.30" height="6.00" rx="0" fill="#000" stroke="#000" stroke-width="0"/>
<rect x="1741" y="627.8" width="41.30" height="6.00" rx="0" fill="#000" stroke="#000" stroke-width="0"/>
<line x1="1744" y1="599.4" x2="1744" y2="633.8" stroke="#000" stroke-width="3"/>
<line x1="1779" y1="599.4" x2="1779" y2="633.8" stroke="#000" stroke-width="3"/>
<rect x="1741" y="662" width="41.30" height="6.00" rx="0" fill="#000" stroke="#000" stroke-width="0"/>
<rect x="1741" y="690.9" width="41.30" height="6.00" rx="0" fill="#000" stroke="#000" stroke-width="0"/>
<line x1="1744" y1="662" x2="1744" y2="696.9" stroke="#000" stroke-width="3"/>
<line x1="1779" y1="662" x2="1779" y2="696.9" stroke="#000" stroke-width="3"/>
<rect x="1750.6" y="874" width="38.00" height="9.50" rx="1" fill="#fff" stroke="#000" stroke-width="3.2"/>
<rect x="1754.8" y="883.5" width="20.10" height="47.50" rx="2" fill="#fff" stroke="#000" stroke-width="3.2"/>
<path d="M1745.4,849.8 V883.5" fill="none" stroke="#000" stroke-width="3"/>
<line x1="1624.9" y1="450" x2="1624.9" y2="845.6" stroke="#000" stroke-width="2.2"/>
<path d="M1624.9,450.0 L1618.4,487.2 L1631.4,487.2 Z" fill="#000"/>
<path d="M1624.9,845.6 L1631.4,810.0 L1618.4,810.0 Z" fill="#000"/>
<text transform="translate(1627.5,695.5) rotate(-90)" class="s" font-size="73" textLength="96" lengthAdjust="spacingAndGlyphs">318</text>
<line x1="1029.5" y1="812.6" x2="1725.3" y2="812.6" stroke="#000" stroke-width="2.2"/>
<path d="M1029.5,812.6 L1065.8,819.1 L1065.8,806.1 Z" fill="#000"/>
<path d="M1725.3,812.6 L1688.4,806.1 L1688.4,819.1 Z" fill="#000"/>
<text x="1328" y="811" class="s" font-size="68" textLength="96" lengthAdjust="spacingAndGlyphs">560</text>
<line x1="835.4" y1="563.6" x2="1064.4" y2="402.7" stroke="#000" stroke-width="2.2"/>
<path d="M978.9,464.1 L946.7,476.6 L953.7,487.6 Z" fill="#000"/>
<path d="M1011.0,436.0 L1035.8,431.3 L1030.2,419.5 Z" fill="#000"/>
<g transform="translate(835.4,563.6) rotate(-35.1)">
<circle cx="16.7" cy="-19.3" r="14.5" fill="none" stroke="#000" stroke-width="2.6"/>
<line x1="2.6999999999999993" y1="-5.600000000000001" x2="30.7" y2="-33.0" stroke="#000" stroke-width="2.6"/>
<text x="41.7" y="-4.5" class="s" font-size="62">20</text>
</g>
<line x1="1680" y1="769.6" x2="1935" y2="877" stroke="#000" stroke-width="2.2"/>
<path d="M1743.0,796.0 L1717.5,778.2 L1712.5,790.2 Z" fill="#000"/>
<path d="M1773.8,809.7 L1806.4,828.4 L1810.8,816.2 Z" fill="#000"/>
<g transform="translate(1680,769.6) rotate(22.8)">
<circle cx="190.3" cy="-18.1" r="14.5" fill="none" stroke="#000" stroke-width="2.6"/>
<line x1="176.3" y1="-4.400000000000002" x2="204.3" y2="-31.8" stroke="#000" stroke-width="2.6"/>
<text x="215.3" y="-4.5" class="s" font-size="62">20</text>
</g>
<line x1="1695.8" y1="799" x2="1903.5" y2="958.3" stroke="#000" stroke-width="2.2"/>
<path d="M1752.7,842.4 L1727.1,814.8 L1719.3,825.2 Z" fill="#000"/>
<path d="M1768.5,855.0 L1793.1,881.3 L1800.9,870.9 Z" fill="#000"/>
<g transform="translate(1695.8,799) rotate(37.5)">
<circle cx="177.5" cy="-16.5" r="14.5" fill="none" stroke="#000" stroke-width="2.6"/>
<line x1="163.5" y1="-2.8000000000000007" x2="191.5" y2="-30.2" stroke="#000" stroke-width="2.6"/>
<text x="202.5" y="-4.5" class="s" font-size="62">10</text>
</g>
<rect x="1988.4" y="441" width="8.80" height="409.00" rx="0" fill="#000" stroke="#000" stroke-width="0"/>
<path d="M1988.4,849 H1997.2 V863 H1993 Z" fill="#000"/>
<rect x="2025.8" y="520" width="8.80" height="330.00" rx="0" fill="#000" stroke="#000" stroke-width="0"/>
<path d="M2026,441 Q2018,454 2026,472 V520" fill="none" stroke="#000" stroke-width="3"/>
<line x1="2031" y1="478" x2="2031" y2="520" stroke="#000" stroke-width="2.5"/>
<path d="M2025.8,849 H2034.6 L2030,863 H2025.8 Z" fill="#000"/>
<rect x="1993" y="862" width="37.00" height="12.60" rx="0" fill="#fff" stroke="#000" stroke-width="3"/>
<rect x="2003.1" y="402.2" width="17.80" height="29.10" rx="2" fill="#fff" stroke="#000" stroke-width="3.2"/>
<rect x="1983.9" y="431.7" width="55.10" height="8.50" rx="1" fill="#fff" stroke="#000" stroke-width="3.2"/>
<rect x="1989.4" y="874.6" width="45.20" height="9.80" rx="1" fill="#fff" stroke="#000" stroke-width="3.2"/>
<rect x="2001.2" y="884.4" width="19.70" height="47.30" rx="2" fill="#fff" stroke="#000" stroke-width="3.2"/>
<line x1="2030" y1="440.8" x2="2069.2" y2="440.8" stroke="#000" stroke-width="3.2"/>
<line x1="2030" y1="466.4" x2="2069.2" y2="466.4" stroke="#000" stroke-width="3.2"/>
<rect x="2069.2" y="438" width="11.90" height="31.00" rx="2" fill="#fff" stroke="#000" stroke-width="3.2"/>
<line x1="2073" y1="439" x2="2073" y2="468" stroke="#000" stroke-width="2.2"/>
<line x1="2077" y1="439" x2="2077" y2="468" stroke="#000" stroke-width="2.2"/>
<line x1="2030" y1="453.5" x2="2047" y2="453.5" stroke="#000" stroke-width="4"/>
<rect x="2028.7" y="440" width="17.80" height="5.00" rx="0" fill="#000" stroke="#000" stroke-width="0"/>
<rect x="2028.7" y="463" width="17.80" height="5.00" rx="0" fill="#000" stroke="#000" stroke-width="0"/>
<circle cx="2003" cy="445" r="3" fill="#000" stroke="#000" stroke-width="2.5"/>
<circle cx="2022" cy="445" r="3" fill="#000" stroke="#000" stroke-width="2.5"/>
<path d="M1997,473.7 H2010 Q2016,475 2016,481 V505 Q2016,511 2010,511 H1997" fill="none" stroke="#000" stroke-width="3"/>
<rect x="1998" y="479" width="10.00" height="27.00" rx="0" fill="none" stroke="#000" stroke-width="2.5"/>
<path d="M2026,478.4 L2047.4,486 V509.6 L2026,518" fill="#fff" stroke="#000" stroke-width="3.2"/>
<rect x="2026" y="488.5" width="17.40" height="19.20" rx="0" fill="none" stroke="#000" stroke-width="2.8"/>
<path d="M2025.8,778 L2047.4,790 V811 L2025.8,823.4" fill="#fff" stroke="#000" stroke-width="3.2"/>
<rect x="2025.8" y="791.5" width="17.60" height="16.50" rx="0" fill="none" stroke="#000" stroke-width="2.8"/>
<rect x="1997.4" y="547.5" width="5.20" height="34.50" rx="0" fill="#000" stroke="#000" stroke-width="0"/>
<rect x="2008.4" y="547.5" width="5.20" height="34.50" rx="0" fill="#000" stroke="#000" stroke-width="0"/>
<rect x="2019.4" y="547.5" width="5.20" height="34.50" rx="0" fill="#000" stroke="#000" stroke-width="0"/>
<rect x="1997" y="554.4" width="28.00" height="20.60" rx="0" fill="#000" stroke="#000" stroke-width="0"/>
<line x1="1998" y1="559.4" x2="2024" y2="559.4" stroke="#fff" stroke-width="0.9"/>
<line x1="1998" y1="564.7" x2="2024" y2="564.7" stroke="#fff" stroke-width="0.9"/>
<line x1="1998" y1="570.0" x2="2024" y2="570.0" stroke="#fff" stroke-width="0.9"/>
<rect x="1971.3" y="554.4" width="25.90" height="20.60" rx="1" fill="#fff" stroke="#000" stroke-width="3.2"/>
<rect x="1997.4" y="767.3" width="5.20" height="33.40" rx="0" fill="#000" stroke="#000" stroke-width="0"/>
<rect x="2008.4" y="767.3" width="5.20" height="33.40" rx="0" fill="#000" stroke="#000" stroke-width="0"/>
<rect x="2019.4" y="767.3" width="5.20" height="33.40" rx="0" fill="#000" stroke="#000" stroke-width="0"/>
<rect x="1997" y="774.2" width="28.00" height="20.60" rx="0" fill="#000" stroke="#000" stroke-width="0"/>
<line x1="1998" y1="779.2" x2="2024" y2="779.2" stroke="#fff" stroke-width="0.9"/>
<line x1="1998" y1="784.5" x2="2024" y2="784.5" stroke="#fff" stroke-width="0.9"/>
<line x1="1998" y1="789.8" x2="2024" y2="789.8" stroke="#fff" stroke-width="0.9"/>
<rect x="1971.3" y="774.2" width="25.90" height="20.60" rx="1" fill="#fff" stroke="#000" stroke-width="3.2"/>
<rect x="1997.2" y="616" width="28.80" height="9.00" rx="0" fill="#000" stroke="#000" stroke-width="0"/>
<rect x="2002.4" y="625" width="18.90" height="21.70" rx="0" fill="none" stroke="#000" stroke-width="2.8"/>
<rect x="1997.2" y="646.7" width="28.80" height="8.30" rx="0" fill="#000" stroke="#000" stroke-width="0"/>
<line x1="1999" y1="619.0" x2="2024" y2="619.0" stroke="#888" stroke-width="1"/>
<line x1="1999" y1="652.0" x2="2024" y2="652.0" stroke="#888" stroke-width="1"/>
<rect x="1997.2" y="679" width="28.80" height="9.00" rx="0" fill="#000" stroke="#000" stroke-width="0"/>
<rect x="2002.4" y="688" width="18.90" height="20.50" rx="0" fill="none" stroke="#000" stroke-width="2.8"/>
<rect x="1997.2" y="708.5" width="28.80" height="8.30" rx="0" fill="#000" stroke="#000" stroke-width="0"/>
<line x1="1999" y1="682.0" x2="2024" y2="682.0" stroke="#888" stroke-width="1"/>
<line x1="1999" y1="713.8" x2="2024" y2="713.8" stroke="#888" stroke-width="1"/>
<g fill="#989898" stroke="none">
<path d="M1372,548.3 C1430,548 1468,585 1468.8,625 C1469,660 1430,682 1405,682.3 L1387.1,631.6 L1437.2,632.9 L1420.9,596.7 L1297.1,577.1 L1315.2,628.3 L1341.3,628.3 L1363.1,682.3 C1310,675 1275,650 1274.9,610 C1275,572 1320,548.5 1372,548.3 Z"/>
</g>
<g fill="#989898">
<path d="M1388,597 L1420,602 L1390,603 Z M1391,605 L1424,610 L1393,611 Z M1394,613 L1427,618 L1396,619 Z M1397,621 L1431,626 L1399,627 Z M1400,629 L1435,633 L1402,633 Z"/>
</g>
<circle cx="1475.3" cy="556" r="15.5" fill="none" stroke="#989898" stroke-width="3"/>
<text x="1475.3" y="564" text-anchor="middle" class="a" font-weight="bold" font-size="22" fill="#989898">R</text>
<text x="1259" y="746.6" class="a" font-weight="bold" font-style="italic" font-size="41.5" fill="#989898" stroke="#989898" stroke-width="2.6" textLength="233" lengthAdjust="spacingAndGlyphs">TONGSHI</text>
</g>
</svg>
</body></html>
